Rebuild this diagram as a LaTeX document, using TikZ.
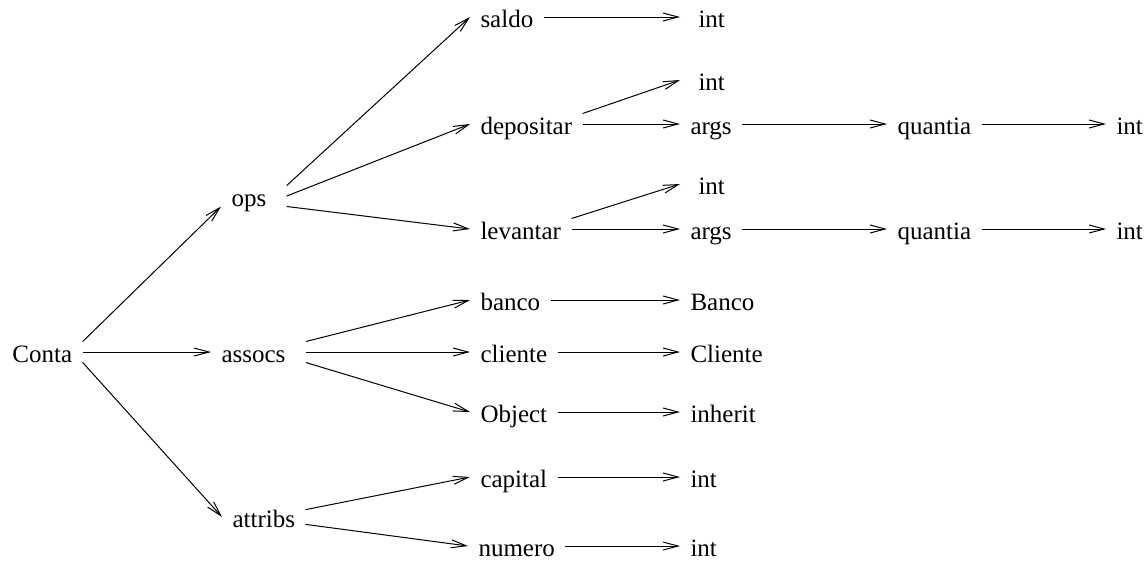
\documentclass[tikz,border=0pt]{standalone}
\usepackage{fontspec}
\setmainfont{Liberation Serif}
\usetikzlibrary{arrows.meta}
\tikzset{>={Straight Barb[length=6pt,width=3.2pt]}}

\begin{document}
\begin{tikzpicture}[x=0.4pt, y=-0.4pt, thin,
  lbl/.style={anchor=west, inner xsep=4pt, inner ysep=0pt, text height=8pt, text depth=0pt},
  arr/.style={->}]
\useasboundingbox (0,0) rectangle (1146,563);
% root and its three groups
\node[lbl] (conta) at (2,352) {Conta};
\node[lbl] (ops) at (221,196) {ops};
\node[lbl] (assocs) at (211,352) {assocs};
\node[lbl] (attribs) at (222,517) {attribs};
% members
\node[lbl] (saldo) at (470,17) {saldo};
\node[lbl] (depositar) at (470,124) {depositar};
\node[lbl] (levantar) at (470,229) {levantar};
\node[lbl] (banco) at (470,300) {banco};
\node[lbl] (cliente) at (470,352) {cliente};
\node[lbl] (object) at (470,412) {Object};
\node[lbl] (capital) at (470,477) {capital};
\node[lbl] (numero) at (468,546) {numero};
% types
\node[lbl] (saldoT) at (688,17) {int};
\node[lbl] (depT) at (688,80) {int};
\node[lbl] (depArgs) at (680,124) {args};
\node[lbl] (levT) at (688,184) {int};
\node[lbl] (levArgs) at (680,229) {args};
\node[lbl] (depQ) at (887,124) {quantia};
\node[lbl] (levQ) at (887,229) {quantia};
\node[lbl] (depQT) at (1106,124) {int};
\node[lbl] (levQT) at (1106,229) {int};
\node[lbl] (bancoT) at (680,300) {Banco};
\node[lbl] (clienteT) at (680,352) {Cliente};
\node[lbl] (objectT) at (680,412) {inherit};
\node[lbl] (capitalT) at (680,477) {int};
\node[lbl] (numeroT) at (680,546) {int};

\draw[arr] (conta.north east) -- (ops.south west);
\draw[arr] (conta.east) -- (assocs.west);
\draw[arr] (conta.south east) -- (attribs.west);
\draw[arr] ([xshift=4pt]ops.north east) -- (saldo.west);
\draw[arr] ([xshift=4pt]ops.east) -- (depositar.west);
\draw[arr] ([xshift=4pt]ops.south east) -- (levantar.west);
\draw[arr] ([xshift=4pt]assocs.north east) -- (banco.west);
\draw[arr] ([xshift=4pt]assocs.east) -- (cliente.west);
\draw[arr] ([xshift=4pt]assocs.south east) -- (object.west);
\draw[arr] (attribs.10) -- (capital.west);
\draw[arr] (attribs.-10) -- (numero.west);
\draw[arr] (depositar.north east) -- ([xshift=-3.2pt]depT.west);
\draw[arr] (levantar.north east) -- ([xshift=-3.2pt]levT.west);
\draw[arr] (saldo.east) -- ([xshift=-3.2pt]saldoT.west);
\foreach \a/\b in {depositar/depArgs, levantar/levArgs,
  depArgs/depQ, levArgs/levQ, depQ/depQT, levQ/levQT, banco/bancoT,
  cliente/clienteT, object/objectT, capital/capitalT, numero/numeroT}
\draw[arr] (\a.east) -- (\b.west);
\end{tikzpicture}
\end{document}
